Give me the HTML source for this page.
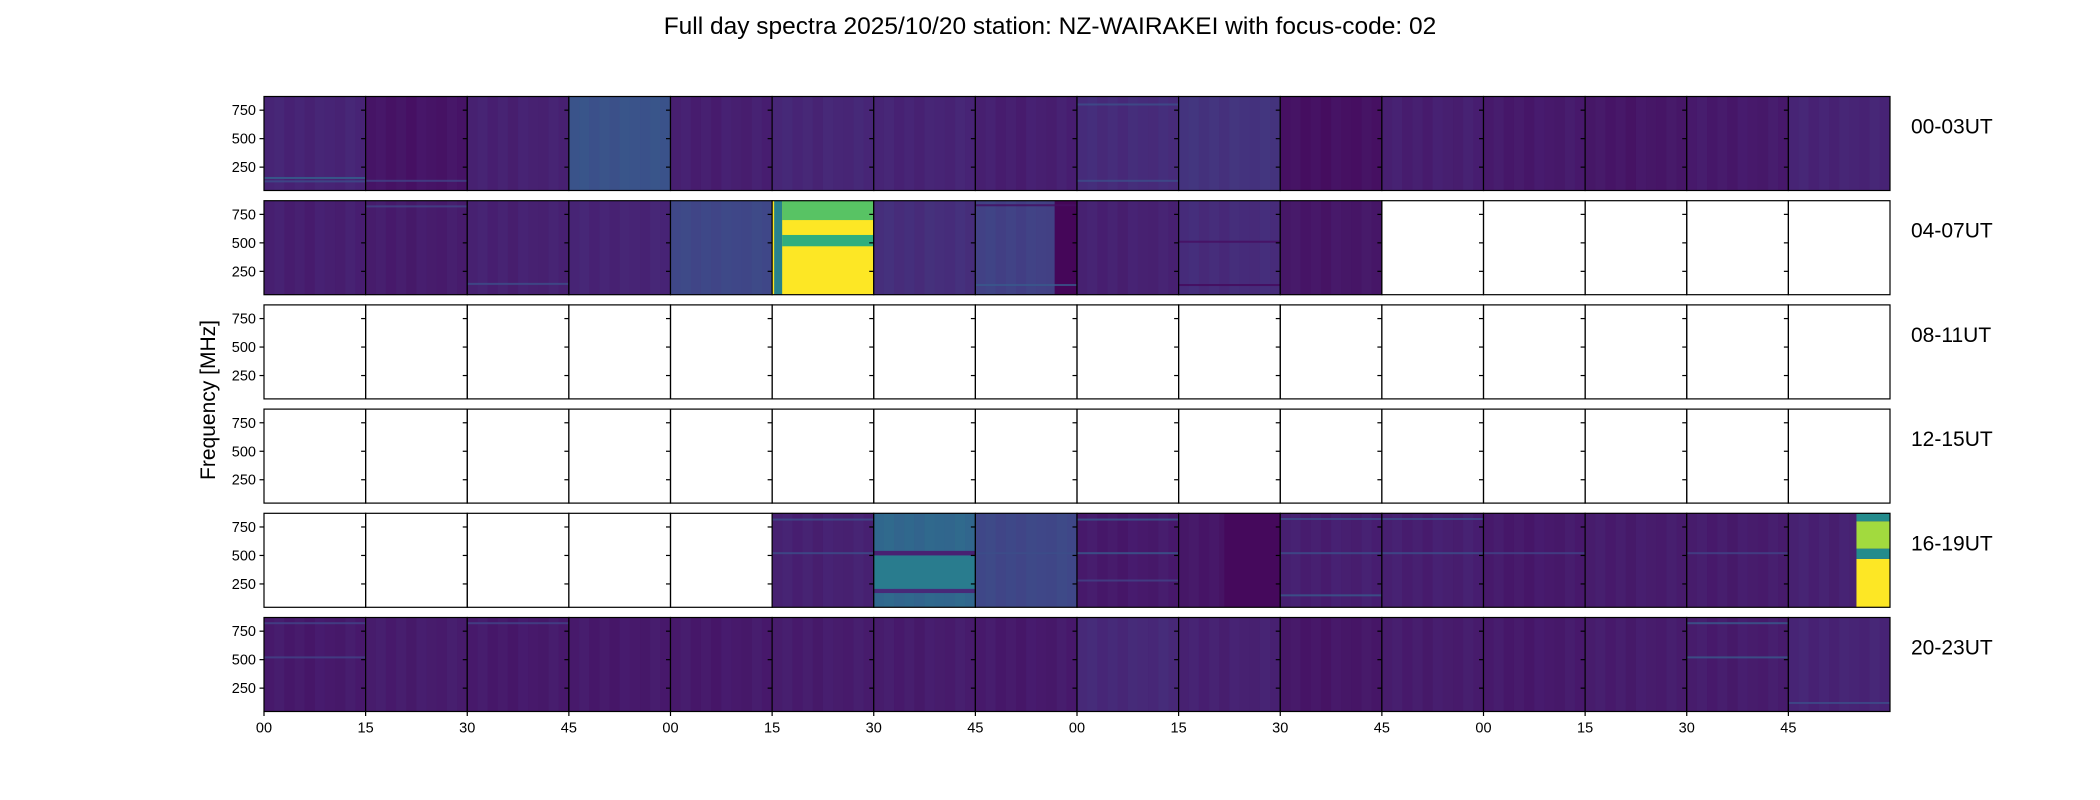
<!DOCTYPE html>
<html><head><meta charset="utf-8"><style>
html,body{margin:0;padding:0;background:#fff;}
svg{display:block;font-family:"Liberation Sans",sans-serif;}
</style></head><body>
<svg id="c" width="2100" height="800" viewBox="0 0 2100 800">
<text x="1050" y="34" text-anchor="middle" font-size="24.5">Full day spectra 2025/10/20 station: NZ-WAIRAKEI with focus-code: 02</text>
<text transform="translate(215,400) rotate(-90)" text-anchor="middle" font-size="21">Frequency [MHz]</text>
</svg>
<script>
// data
const rowLabels = ["00-03UT","04-07UT","08-11UT","12-15UT","16-19UT","20-23UT"];
const xTickLabels = ["00","15","30","45","00","15","30","45","00","15","30","45","00","15","30","45"];
const yTicks = [250,500,750];
const N = null;
const level0 = [0.13,0.07,0.12,0.32,0.11,0.14,0.13,0.11,0.16,0.19,0.06,0.11,0.09,0.08,0.09,0.13];
const level1 = [0.11,0.10,0.12,0.13,0.27,1.0,0.17,0.24,0.12,0.16,0.08,N,N,N,N,N];
const level2 = [N,N,N,N,N,N,N,N,N,N,N,N,N,N,N,N];
const level3 = [N,N,N,N,N,N,N,N,N,N,N,N,N,N,N,N];
const level4 = [N,N,N,N,N,0.12,0.42,0.27,0.09,0.08,0.11,0.11,0.09,0.10,0.10,0.12];
const level5 = [0.09,0.10,0.09,0.09,0.09,0.10,0.10,0.09,0.15,0.12,0.08,0.10,0.09,0.10,0.10,0.13];
const levels = [level0,level1,level2,level3,level4,level5];
// special frequency bands: [row, col, fLo, fHi, level, startFrac, endFrac]
const bands = [
 [1,5,45,870,0.55,0.02,0.1],
 [1,5,45,470,1.0,0.1,1],[1,5,470,570,0.72,0.1,1],[1,5,570,700,1.0,0.1,1],[1,5,700,870,0.8,0.1,1],
 [1,7,45,870,0.02,0.78,1],
 [4,6,500,540,0.12,0,1],[4,6,170,205,0.15,0,1],[4,6,210,500,0.52,0,1],
 [4,9,45,870,0.03,0.45,1],
 [4,15,45,470,1.0,0.67,1],[4,15,470,560,0.6,0.67,1],[4,15,560,800,0.9,0.67,1],[4,15,800,870,0.6,0.67,1]
];
// bright horizontal lines: [row, col, freq, level]
const lines = [
 [0,0,155,0.4],[0,0,125,0.3],[0,8,800,0.3],[0,8,130,0.3],[0,1,130,0.25],
 [1,1,820,0.25],[1,2,140,0.3],[1,7,830,0.05],[1,7,130,0.35],[1,9,510,0.05],[1,9,130,0.03],
 [4,5,815,0.3],[4,5,520,0.3],[4,7,520,0.3],[4,8,520,0.35],[4,8,815,0.35],[4,8,280,0.25],
 [4,10,820,0.3],[4,10,520,0.3],[4,10,150,0.35],[4,11,520,0.3],[4,11,820,0.3],[4,12,520,0.25],[4,14,520,0.25],
 [5,0,820,0.25],[5,0,520,0.25],[5,2,820,0.25],[5,14,820,0.35],[5,14,520,0.35],[5,15,120,0.3]
];
// layout
const L=264, R=1890, T0=96.5, PITCH=104.2, H=94, FMIN=45, FMAX=870;
const PW=(R-L)/16;
const ns="http://www.w3.org/2000/svg";
const svg=document.getElementById('c');
function yScale(r,f){return T0+r*PITCH+(FMAX-f)/(FMAX-FMIN)*H;}
function xScale(c,frac){return L+c*PW+frac*PW;}
const stops=[[0,[68,1,84]],[0.13,[72,36,117]],[0.25,[65,68,135]],[0.38,[53,95,141]],[0.5,[42,120,142]],[0.63,[33,145,140]],[0.75,[53,183,121]],[0.88,[144,215,67]],[1,[253,231,37]]];
function viridis(v){v=Math.max(0,Math.min(1,v));for(let i=1;i<stops.length;i++){if(v<=stops[i][0]){const a=stops[i-1],b=stops[i];const t=(v-a[0])/(b[0]-a[0]);return 'rgb('+a[1].map((x,k)=>Math.round(x+(b[1][k]-x)*t)).join(',')+')';}}return 'rgb(253,231,37)';}
function mk(tag,attrs,parent){const e=document.createElementNS(ns,tag);for(const k in attrs)e.setAttribute(k,attrs[k]);(parent||svg).appendChild(e);return e;}
const texture=[0,0.02,-0.015,0.01,-0.02,0.015,0,-0.01,0.02,-0.005];
for(let r=0;r<6;r++){
 for(let c=0;c<16;c++){
  const v=levels[r][c];
  const x0=xScale(c,0), y0=yScale(r,FMAX);
  if(v!==null){
   const g=mk('g',{});
   
   
   mk('rect',{x:x0,y:y0,width:PW,height:H,fill:viridis(v)},g);
   for(let k=0;k<10;k++){
    mk('rect',{x:x0+k*PW/10,y:y0,width:PW/10,height:H,fill:viridis(v+texture[k]),opacity:0.6},g);
   }
   for(const b of bands){ if(b[0]===r&&b[1]===c){
    mk('rect',{x:xScale(c,b[5]),y:yScale(r,b[3]),width:PW*(b[6]-b[5]),height:yScale(r,b[2])-yScale(r,b[3]),fill:viridis(b[4])},g);
   }}
   for(const ln of lines){ if(ln[0]===r&&ln[1]===c){
    mk('rect',{x:x0,y:yScale(r,ln[2])-1,width:PW,height:2,fill:viridis(ln[3]),opacity:0.8},g);
   }}
  }
  const fr=mk('rect',{x:x0,y:y0,width:PW,height:H,fill:'none',stroke:'#000','stroke-width':1.2});
  
  
  for(const t of yTicks){
   const ty=yScale(r,t);
   mk('line',{x1:x0-4.5,x2:x0,y1:ty,y2:ty,stroke:'#000','stroke-width':1.2});
   if(c===0){
    const tl=mk('text',{x:x0-8,y:ty+5,'text-anchor':'end','font-size':14.5});
    tl.textContent=t;
    
    
   }
  }
 }
 const rl=mk('text',{x:1911,y:yScale(r,FMAX)+37,'font-size':21});
 rl.textContent=rowLabels[r];
 
 
}
const yb=yScale(5,FMIN);
for(let c=0;c<16;c++){
 const x=xScale(c,0);
 mk('line',{x1:x,x2:x,y1:yb,y2:yb+4.5,stroke:'#000','stroke-width':1.2});
 const tl=mk('text',{x:x,y:yb+21,'text-anchor':'middle','font-size':14.5});
 tl.textContent=xTickLabels[c];
 
 
}
</script>
</body></html>
